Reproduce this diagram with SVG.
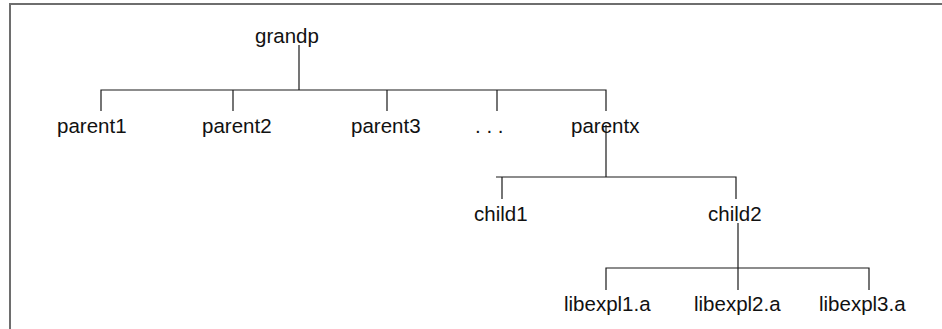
<svg xmlns="http://www.w3.org/2000/svg" width="942" height="329" viewBox="0 0 942 329">
  <style>
    .frame { fill: none; stroke: #6e6e6e; stroke-width: 2; }
    .link { fill: none; stroke: #1a1a1a; stroke-width: 1.2; }
    .label { font-family: "Liberation Sans", Arial, Helvetica, sans-serif; font-size: 20.5px; fill: #111; }
  </style>
  <rect width="942" height="329" fill="#fff"/>
  <!-- open frame: top and left edges -->
  <path class="frame" d="M10,329 V4 H942"/>

  <g id="connectors">
    <!-- grandp to parents -->
    <path class="link" d="M299,45 V90"/>
    <path class="link" d="M101,111 V90 H606 V111"/>
    <path class="link" d="M233,90 V111 M387,90 V111 M497,90 V111"/>
    <!-- parentx to children -->
    <path class="link" d="M606,125 V177"/>
    <path class="link" d="M496,177 H736 V199 M502,177 V199"/>
    <!-- child2 to libraries -->
    <path class="link" d="M738,223 V268"/>
    <path class="link" d="M606,290 V268 H869 V290 M738,268 V290"/>
  </g>

  <g id="grandp"><text class="label" x="255" y="43">grandp</text></g>
  <g id="parent1"><text class="label" x="57" y="133">parent1</text></g>
  <g id="parent2"><text class="label" x="202" y="133">parent2</text></g>
  <g id="parent3"><text class="label" x="351" y="133">parent3</text></g>
  <g id="more"><text class="label" x="475" y="133">. . .</text></g>
  <g id="parentx"><text class="label" x="571" y="133">parentx</text></g>
  <g id="child1"><text class="label" x="474" y="221">child1</text></g>
  <g id="child2"><text class="label" x="708" y="221">child2</text></g>
  <g id="libexpl1"><text class="label" x="564" y="311">libexpl1.a</text></g>
  <g id="libexpl2"><text class="label" x="694" y="311">libexpl2.a</text></g>
  <g id="libexpl3"><text class="label" x="819" y="311">libexpl3.a</text></g>
</svg>
